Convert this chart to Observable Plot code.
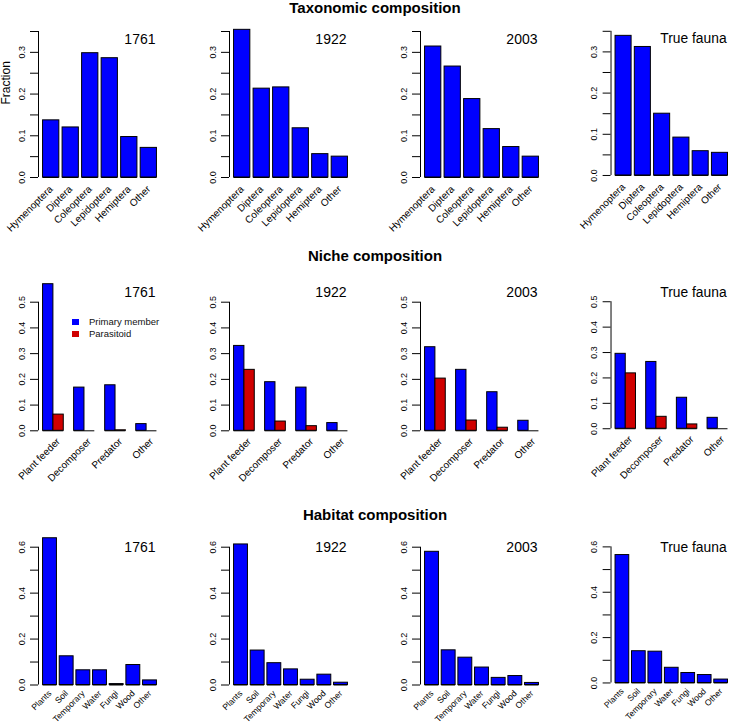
<!DOCTYPE html>
<html><head><meta charset="utf-8">
<script src="https://cdn.jsdelivr.net/npm/d3@7"></script>
<script src="https://cdn.jsdelivr.net/npm/@observablehq/plot@0.6"></script>
<style>
html,body{margin:0;padding:0;background:#fff;overflow:hidden;}
#root{position:relative;width:732px;height:726px;overflow:hidden;font-family:"Liberation Sans",Arial,Helvetica,sans-serif;color:#000;}
.title{position:absolute;left:0;width:750px;text-align:center;font-weight:bold;font-size:15px;line-height:15px;}
.panel{position:absolute;}
.legend{position:absolute;font-size:9.5px;line-height:10px;color:#111;}
.legend .sw{position:absolute;width:6.7px;height:6px;}
</style></head><body><div id="root"></div>
<script>
// ---------- data ----------
const panelLabels = ["1761", "1922", "2003", "True fauna"];
const rowTitles = ["Taxonomic composition", "Niche composition", "Habitat composition"];

const taxaCats = ["Hymenoptera", "Diptera", "Coleoptera", "Lepidoptera", "Hemiptera", "Other"];
const taxa1761 = [0.137, 0.120, 0.298, 0.286, 0.097, 0.071];
const taxa1922 = [0.354, 0.213, 0.216, 0.118, 0.056, 0.050];
const taxa2003 = [0.314, 0.266, 0.188, 0.116, 0.073, 0.050];
const taxaTrue = [0.339, 0.312, 0.150, 0.092, 0.059, 0.055];

const nicheCats = ["Plant feeder", "Decomposer", "Predator", "Other"];
const nicheSeries = ["Primary member", "Parasitoid"];
const primary1761 = [0.570, 0.168, 0.177, 0.026];
const parasitoid1761 = [0.063, 0.000, 0.002, 0.000];
const primary1922 = [0.330, 0.189, 0.168, 0.030];
const parasitoid1922 = [0.237, 0.036, 0.018, 0.000];
const primary2003 = [0.325, 0.237, 0.150, 0.039];
const parasitoid2003 = [0.203, 0.040, 0.012, 0.000];
const primaryTrue = [0.295, 0.263, 0.122, 0.043];
const parasitoidTrue = [0.218, 0.047, 0.017, 0.000];

const habitatCats = ["Plants", "Soil", "Temporary", "Water", "Fungi", "Wood", "Other"];
const habitat1761 = [0.639, 0.125, 0.064, 0.064, 0.004, 0.087, 0.020];
const habitat1922 = [0.612, 0.150, 0.095, 0.068, 0.023, 0.045, 0.010];
const habitat2003 = [0.580, 0.151, 0.119, 0.076, 0.031, 0.039, 0.009];
const habitatTrue = [0.564, 0.140, 0.138, 0.067, 0.044, 0.035, 0.015];

const yTicks1 = [0, 0.05, 0.1, 0.15, 0.2, 0.25, 0.3, 0.35];
const yTickLabels1 = ["0.0", "", "0.1", "", "0.2", "", "0.3", ""];
const yTicks2 = [0, 0.1, 0.2, 0.3, 0.4, 0.5];
const yTickLabels2 = ["0.0", "0.1", "0.2", "0.3", "0.4", "0.5"];
const yTicks3 = [0, 0.1, 0.2, 0.3, 0.4, 0.5, 0.6];
const yTickLabels3 = ["0.0", "", "0.2", "", "0.4", "", "0.6"];

const seriesColors = ["#0000ff", "#d00000"];

// ---------- layout ----------
const rows = [
  {cats: taxaCats, series: ["Primary member"], values: [[taxa1761], [taxa1922], [taxa2003], [taxaTrue]],
   grouped: false, yTicks: yTicks1, yLabels: yTickLabels1,
   svgTop: 16, H: 224, mt: 15, plotH: 146, labelDy: 12.3, xFont: 10, xDy: 10, xDx: 0, titleTop: 0},
  {cats: nicheCats, series: nicheSeries,
   values: [[primary1761, parasitoid1761], [primary1922, parasitoid1922], [primary2003, parasitoid2003], [primaryTrue, parasitoidTrue]],
   grouped: true, yTicks: yTicks2, yLabels: yTickLabels2,
   svgTop: 265, H: 222, mt: 36.7, plotH: 128.6, labelDy: -5, xFont: 10, xDy: 9, xDx: 5, titleTop: 248.2},
  {cats: habitatCats, series: ["Primary member"], values: [[habitat1761], [habitat1922], [habitat2003], [habitatTrue]],
   grouped: false, yTicks: yTicks3, yLabels: yTickLabels3,
   svgTop: 522, H: 204, mt: 24.7, plotH: 137.8, labelDy: 5, xFont: 8.6, xDy: 7, xDx: 0, titleTop: 506.5}
];

const root = document.getElementById("root");
const PANEL_STEP = 191, PANEL_W = 161, ML = 38;

function buildData(cats, seriesNames, seriesVals, grouped) {
  const bars = [], labels = [];
  const m = seriesVals.length;
  cats.forEach((c, j) => {
    if (!grouped) {
      const x1 = 0.2 + j * 1.2;
      bars.push({cat: c, series: seriesNames[0], value: seriesVals[0][j], x1, x2: x1 + 1});
      labels.push({cat: c, x: x1 + 0.5});
    } else {
      seriesVals.forEach((vals, k) => {
        const x1 = 1 + j * (m + 1) + k;
        bars.push({cat: c, series: seriesNames[k], value: vals[j], x1, x2: x1 + 1});
      });
      labels.push({cat: c, x: 1 + j * (m + 1) + m / 2});
    }
  });
  const n = cats.length;
  const lo = grouped ? 1 : 0.2, hi = grouped ? n * (m + 1) : n * 1.2;
  const ext = 0.04 * (hi - lo);
  return {bars, labels, domain: [lo - ext, hi + ext]};
}

rows.forEach((r, ri) => {
  const t = document.createElement("div");
  t.className = "title";
  t.style.top = r.titleTop + "px";
  t.textContent = rowTitles[ri];
  root.appendChild(t);

  r.values.forEach((sv, pi) => {
    const {bars, labels, domain} = buildData(r.cats, r.series, sv, r.grouped);
    const yMax = r.yTicks[r.yTicks.length - 1];
    const labelMap = new Map(r.yTicks.map((d, i) => [d, r.yLabels[i]]));
    const marks = [
      Plot.rect(bars, {x1: "x1", x2: "x2", y1: 0, y2: "value", fill: "series", stroke: "#000", strokeWidth: 1}),
      Plot.ruleY(bars, {x1: "x1", x2: "x2", y: 0, stroke: "#000", strokeWidth: 1}),
      Plot.ruleX([domain[0]], {y1: 0, y2: yMax, stroke: "#000", strokeWidth: 1}),
      Plot.axisY({ticks: r.yTicks, tickSize: 8, tickPadding: 6, tickRotate: -90,
        tickFormat: d => labelMap.get(d) ?? "", label: null, fontSize: 9, stroke: "#000"}),
      Plot.text(labels, {x: "x", y: 0, text: "cat", rotate: -45, textAnchor: "end", lineAnchor: "middle",
        dy: r.xDy, dx: r.xDx, fontSize: r.xFont, fill: "#000"}),
      Plot.text([panelLabels[pi]], {frameAnchor: "top-right", textAnchor: "end", lineAnchor: "bottom",
        dx: -6, dy: r.labelDy, fontSize: 14, fill: "#000"})
    ];
    if (ri === 0 && pi === 0) {
      marks.push(Plot.text(["Fraction"], {frameAnchor: "left", rotate: -90, dx: -32, fontSize: 12, fill: "#000"}));
    }
    const svg = Plot.plot({
      width: PANEL_W, height: r.H,
      marginLeft: ML, marginRight: 0, marginTop: r.mt, marginBottom: r.H - r.mt - r.plotH,
      x: {domain, axis: null},
      y: {domain: [0, yMax]},
      color: {domain: nicheSeries, range: seriesColors},
      style: {fontFamily: '"Liberation Sans", Arial, Helvetica, sans-serif', fontSize: "9px", color: "#000", background: "transparent", overflow: "visible"},
      marks
    });
    const wrap = document.createElement("div");
    wrap.className = "panel";
    wrap.style.left = (pi * PANEL_STEP) + "px";
    wrap.style.top = r.svgTop + "px";
    wrap.appendChild(svg);
    root.appendChild(wrap);
  });
});

// legend (niche row, first panel)
const legend = document.createElement("div");
legend.className = "legend";
legend.style.left = "72px";
legend.style.top = "317px";
nicheSeries.forEach((s, i) => {
  const sw = document.createElement("div");
  sw.className = "sw";
  sw.style.left = "0px";
  sw.style.top = (2 + i * 11.7) + "px";
  sw.style.background = seriesColors[i];
  legend.appendChild(sw);
  const tx = document.createElement("div");
  tx.style.position = "absolute";
  tx.style.left = "17px";
  tx.style.top = (i * 11.7) + "px";
  tx.style.whiteSpace = "nowrap";
  tx.textContent = s;
  legend.appendChild(tx);
});
root.appendChild(legend);
</script></body></html>
